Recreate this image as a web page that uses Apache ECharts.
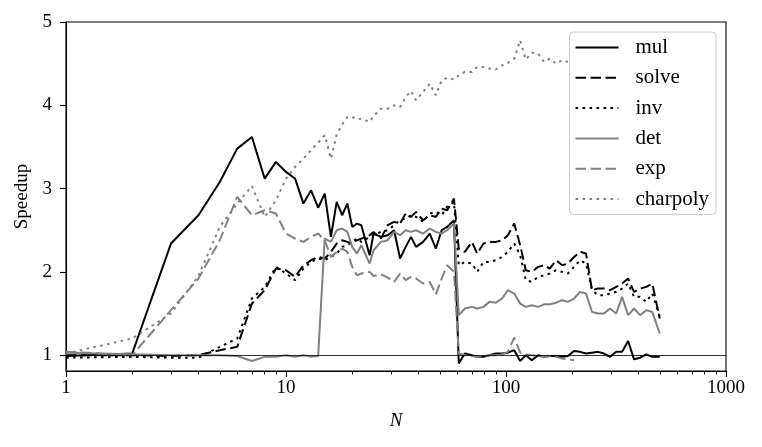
<!DOCTYPE html>
<html>
<head>
<meta charset="utf-8">
<script src="https://cdn.jsdelivr.net/npm/echarts@6/dist/echarts.min.js"></script>
<style>
  html, body { margin: 0; padding: 0; background: #fff; }
  #chart { width: 762px; height: 447px; }
</style>
</head>
<body>
<div id="chart"></div>
<script>
// matrix size N
const sizes = [1, 2, 3, 4, 5, 6, 7, 8, 9, 10, 11, 12, 13, 14, 15, 16, 17, 18, 19, 20,
  21, 22, 24, 25, 27, 29, 31, 33, 35, 37, 39, 42, 45, 48, 51, 54, 58,
  61, 65, 70, 74, 79, 84, 90, 96, 102, 109, 116, 123, 131, 140, 149, 158, 169, 180, 191, 204,
  217, 231, 246, 262, 279, 297, 317, 337, 359, 382, 407, 434, 462, 500]

const mul = [0.99, 1.02, 2.34, 2.68, 3.08, 3.48, 3.62, 3.12, 3.32, 3.20, 3.12, 2.82, 2.98, 2.77, 2.94, 2.42, 2.84, 2.68, 2.82, 2.54,
  2.58, 2.56, 2.20, 2.46, 2.42, 2.44, 2.50, 2.16, 2.30, 2.42, 2.30, 2.36, 2.46, 2.28, 2.50, 2.54, 2.62,
  0.90, 1.02, 1.00, 0.98, 0.98, 1.00, 1.02, 1.02, 1.03, 1.06, 0.93, 1.00, 0.94, 1.00, 0.98, 0.99, 0.99, 0.98, 0.99, 1.05,
  1.04, 1.02, 1.03, 1.04, 1.02, 0.98, 1.04, 1.04, 1.17, 0.95, 0.97, 1.01, 0.98, 0.98]

const solve = [1.00, 1.00, 0.99, 1.00, 1.06, 1.10, 1.62, 1.78, 2.04, 2.02, 1.94, 2.08, 2.14, 2.18, 2.16, 2.24, 2.34, 2.38, 2.36, 2.34,
  2.38, 2.40, 2.44, 2.48, 2.40, 2.56, 2.60, 2.58, 2.70, 2.66, 2.72, 2.62, 2.68, 2.66, 2.76, 2.74, 2.88,
  2.28, 2.24, 2.36, 2.22, 2.34, 2.36, 2.36, 2.38, 2.44, 2.58, 2.32, 2.02, 2.00, 2.06, 2.08, 2.04, 2.14, 2.08, 2.10, 2.18,
  2.24, 2.22, 1.78, 1.80, 1.80, 1.78, 1.82, 1.86, 1.92, 1.76, 1.80, 1.82, 1.86, 1.44]

const inv = [0.97, 0.98, 0.97, 0.97, 1.10, 1.20, 1.68, 1.82, 2.06, 1.98, 1.90, 2.04, 2.12, 2.16, 2.14, 2.18, 2.22, 2.30, 2.32, 2.36,
  2.40, 2.36, 2.42, 2.44, 2.48, 2.50, 2.56, 2.62, 2.64, 2.68, 2.66, 2.60, 2.70, 2.72, 2.68, 2.78, 2.84,
  2.08, 2.12, 2.10, 2.00, 2.12, 2.12, 2.14, 2.18, 2.24, 2.34, 2.20, 1.90, 1.88, 1.94, 1.96, 1.98, 2.02, 2.00, 1.98, 2.06,
  2.14, 2.10, 1.78, 1.72, 1.72, 1.74, 1.76, 1.80, 1.86, 1.70, 1.70, 1.64, 1.74, 1.46]

const det = [1.03, 1.01, 1.00, 1.00, 1.00, 0.99, 0.93, 0.98, 0.98, 1.00, 0.98, 1.00, 0.98, 0.99, 2.40, 2.36, 2.50, 2.52, 2.48, 2.30,
  2.22, 2.32, 2.10, 2.26, 2.36, 2.38, 2.48, 2.44, 2.50, 2.48, 2.50, 2.46, 2.52, 2.48, 2.46, 2.50, 2.58,
  1.48, 1.56, 1.58, 1.56, 1.58, 1.64, 1.63, 1.68, 1.78, 1.74, 1.62, 1.58, 1.60, 1.58, 1.61, 1.61, 1.63, 1.66, 1.64, 1.68,
  1.76, 1.74, 1.52, 1.50, 1.50, 1.56, 1.50, 1.70, 1.48, 1.56, 1.48, 1.54, 1.52, 1.26]

// exp stops at N = 204
const exp = [1.04, 1.00, 1.54, 1.92, 2.38, 2.90, 2.68, 2.74, 2.70, 2.46, 2.40, 2.36, 2.42, 2.46, 2.38, 2.18, 2.24, 2.28, 2.24, 2.06,
  1.96, 1.98, 2.00, 1.95, 1.97, 1.93, 1.88, 1.98, 1.90, 1.94, 1.92, 1.86, 1.88, 1.73, 1.92, 2.08, 2.00,
  1.02, 1.00, 0.99, 0.98, 0.99, 1.00, 1.00, 1.01, 1.04, 1.21, 1.03, 1.01, 1.00, 0.99, 0.98, 0.99, 0.98, 0.96, 0.95, 0.94]

// charpoly stops at N = 191
const charpoly = [1.02, 1.20, 1.50, 1.95, 2.54, 2.82, 3.03, 2.66, 2.86, 3.12, 3.26, 3.36, 3.46, 3.55, 3.64, 3.36, 3.65, 3.77, 3.86, 3.86,
  3.83, 3.84, 3.80, 3.87, 3.96, 3.96, 4.00, 3.98, 4.10, 4.17, 4.06, 4.16, 4.26, 4.12, 4.30, 4.33, 4.31,
  4.36, 4.40, 4.40, 4.46, 4.46, 4.44, 4.43, 4.48, 4.51, 4.56, 4.78, 4.55, 4.63, 4.62, 4.52, 4.56, 4.50, 4.54, 4.52]

const xMinorTicks = [2, 3, 4, 5, 6, 7, 8, 9, 20, 30, 40, 50, 60, 70, 80, 90, 200, 300, 400, 500, 600, 700, 800, 900]
const yTicks = [1, 2, 3, 4, 5]

const FONT = 'Liberation Serif'
const BLACK = '#000000'
const GRAY = '#808080'
const DASH = [10.5, 4.5]
const DOT = [2.6, 4.4]

function pairs (vals) {
  return vals.map((v, i) => [sizes[i], v])
}

function line (name, vals, color, type, extra) {
  return Object.assign({
    name: name,
    type: 'line',
    data: pairs(vals),
    symbol: 'none',
    symbolSize: 0,
    smooth: false,
    lineStyle: { color: color, width: 2, type: type, cap: 'butt' },
    itemStyle: { color: color }
  }, extra || {})
}

const chart = echarts.init(document.getElementById('chart'), null, { renderer: 'canvas' })

const option = {
  animation: false,
  backgroundColor: '#ffffff',
  textStyle: { fontFamily: FONT },
  grid: {
    left: 66, right: 36, top: 22, bottom: 76,
    show: true, borderColor: BLACK, borderWidth: 1.1, backgroundColor: 'transparent'
  },
  legend: {
    orient: 'vertical',
    right: 46,
    top: 32,
    itemWidth: 43,
    itemHeight: 14,
    itemGap: 9.3,
    padding: [5, 7, 5, 5],
    backgroundColor: 'rgba(255,255,255,0.8)',
    borderColor: '#cccccc',
    borderWidth: 1,
    borderRadius: 4,
    itemStyle: { opacity: 0, borderWidth: 0 },
    textStyle: { fontFamily: FONT, fontSize: 21, lineHeight: 20, color: BLACK, padding: [0, 0, 0, 12] },
    data: ['mul', 'solve', 'inv', 'det', 'exp', 'charpoly']
  },
  xAxis: [
    {
      type: 'log',
      logBase: 10,
      min: 1,
      max: 1000,
      splitNumber: 3,
      name: 'N',
      nameLocation: 'middle',
      nameGap: 40,
      nameTextStyle: { fontFamily: FONT, fontSize: 19, fontStyle: 'italic', color: BLACK },
      axisLine: { show: true, lineStyle: { color: BLACK, width: 1.1 } },
      axisTick: { show: true, inside: false, length: 6, lineStyle: { color: BLACK, width: 1.1 } },
      axisLabel: {
        margin: 8, fontFamily: FONT, fontSize: 19, color: BLACK,
        formatter: v => String(Math.round(v))
      },
      splitLine: { show: false }
    },
    {
      // minor ticks, placed through a linear axis over log10(N)
      type: 'value',
      min: 0,
      max: 3,
      position: 'bottom',
      axisLine: { show: false },
      axisLabel: { show: false },
      axisTick: {
        show: true, inside: false, length: 3.5,
        lineStyle: { color: BLACK, width: 0.9 },
        customValues: xMinorTicks.map(v => Math.log10(v))
      },
      splitLine: { show: false }
    }
  ],
  yAxis: {
    type: 'value',
    min: 0.81,
    max: 5,
    name: 'Speedup',
    nameLocation: 'middle',
    nameGap: 31,
    nameTextStyle: { fontFamily: FONT, fontSize: 19, color: BLACK },
    axisLine: { show: true, lineStyle: { color: BLACK, width: 1.1 } },
    axisTick: { show: true, inside: false, length: 6, lineStyle: { color: BLACK, width: 1.1 }, customValues: yTicks },
    axisLabel: { margin: 14, fontFamily: FONT, fontSize: 19, color: BLACK, customValues: yTicks },
    splitLine: { show: false }
  },
  series: [
    line('mul', mul, BLACK, 'solid', {
      markLine: {
        silent: true,
        symbol: 'none',
        label: { show: false },
        lineStyle: { color: BLACK, width: 0.8, type: 'solid' },
        data: [{ yAxis: 1 }]
      }
    }),
    line('solve', solve, BLACK, DASH),
    line('inv', inv, BLACK, DOT),
    line('det', det, GRAY, 'solid'),
    line('exp', exp, GRAY, DASH),
    line('charpoly', charpoly, GRAY, DOT)
  ]
}

chart.setOption(option)
</script>
</body>
</html>
